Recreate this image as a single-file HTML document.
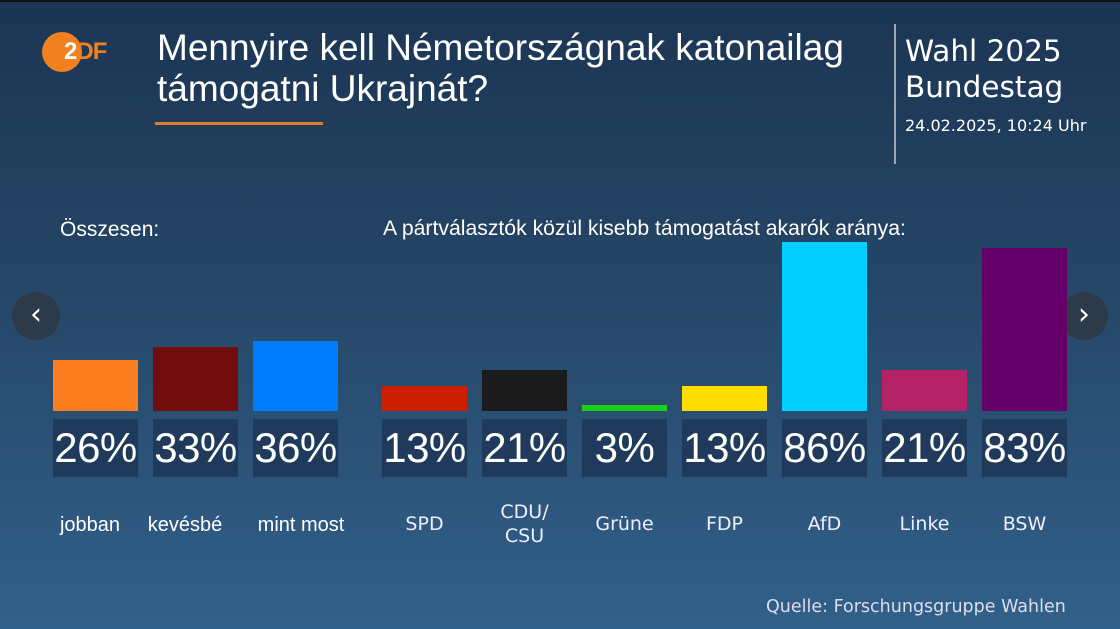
<!DOCTYPE html>
<html><head><meta charset="utf-8"><style>
*{margin:0;padding:0;box-sizing:border-box}
body{width:1120px;height:629px;overflow:hidden;position:relative;font-family:"Liberation Sans","DejaVu Sans",sans-serif;color:#fff;
background:linear-gradient(180deg,#1c3554 0%,#22405f 30%,#2a4f73 65%,#31608a 100%);}
.a{position:absolute}
.bar{position:absolute;width:85px}
.val{position:absolute;top:419px;width:85px;height:58px;background:#1f3a5a;font-size:42px;line-height:58px;text-align:center;letter-spacing:-0.5px;white-space:nowrap}
.lab{position:absolute;width:120px;text-align:center;font-size:20px}
.plab{position:absolute;width:85px;text-align:center;font-size:19px;font-family:"DejaVu Sans",sans-serif;color:#eef}
.nav{position:absolute;width:48px;height:48px;border-radius:50%;background:#2c3a4a;top:292px;font-size:30px;line-height:46px;text-align:center;font-family:"DejaVu Sans",sans-serif}
</style></head><body>
<div class="a" style="top:0;left:0;width:1120px;height:2px;background:#111"></div>
<div class="a" style="left:42px;top:32px;width:40px;height:40px;border-radius:50%;background:#f08020"></div>
<div class="a" style="left:64px;top:38px;font-size:24px;font-weight:bold;color:#fff;letter-spacing:-1px">2<span style="color:#f08020">DF</span></div>
<div class="a" style="left:157px;top:27px;font-size:37px;line-height:41px;white-space:nowrap">Mennyire kell Németországnak katonailag<br>támogatni Ukrajnát?</div>
<div class="a" style="left:155px;top:122px;width:168px;height:3px;background:#e87a25"></div>
<div class="a" style="left:894px;top:24px;width:2px;height:140px;background:#9aa8b8"></div>
<div class="a" style="left:905px;top:33px;font-size:29.5px;line-height:36px;font-family:'DejaVu Sans',sans-serif">Wahl 2025<br>Bundestag</div>
<div class="a" style="left:905px;top:116px;font-size:16px;font-family:'DejaVu Sans',sans-serif">24.02.2025, 10:24 Uhr</div>
<div class="a" style="left:60px;top:218px;font-size:21px">Összesen:</div>
<div class="a" style="left:383px;top:217px;font-size:21.2px;white-space:nowrap">A pártválasztók közül kisebb támogatást akarók aránya:</div>
<div class="nav" style="left:12px">‹</div>
<div class="nav" style="left:1060px">›</div>

<div class="bar" style="left:53px;top:360px;height:51px;background:#fd7e1f"></div>
<div class="bar" style="left:153px;top:347px;height:64px;background:#720d0e"></div>
<div class="bar" style="left:253px;top:341px;height:70px;background:#007dfd"></div>
<div class="bar" style="left:382px;top:386px;height:25px;background:#cc1f00"></div>
<div class="bar" style="left:482px;top:370px;height:41px;background:#1b1b1b"></div>
<div class="bar" style="left:582px;top:405px;height:6px;background:#1fce1b"></div>
<div class="bar" style="left:682px;top:386px;height:25px;background:#ffdd00"></div>
<div class="bar" style="left:782px;top:242px;height:169px;background:#00d0ff"></div>
<div class="bar" style="left:882px;top:370px;height:41px;background:#b52367"></div>
<div class="bar" style="left:982px;top:248px;height:163px;background:#640068"></div>

<div class="val" style="left:53px">26%</div>
<div class="val" style="left:153px">33%</div>
<div class="val" style="left:253px">36%</div>
<div class="val" style="left:382px">13%</div>
<div class="val" style="left:482px">21%</div>
<div class="val" style="left:582px">3%</div>
<div class="val" style="left:682px">13%</div>
<div class="val" style="left:782px">86%</div>
<div class="val" style="left:882px">21%</div>
<div class="val" style="left:982px">83%</div>

<div class="lab" style="left:30px;top:514px">jobban</div>
<div class="lab" style="left:125px;top:514px">kevésbé</div>
<div class="lab" style="left:241px;top:514px">mint most</div>
<div class="plab" style="left:382px;top:513px">SPD</div>
<div class="plab" style="left:482px;top:500px;line-height:24px">CDU/<br>CSU</div>
<div class="plab" style="left:582px;top:513px">Grüne</div>
<div class="plab" style="left:682px;top:513px">FDP</div>
<div class="plab" style="left:782px;top:513px">AfD</div>
<div class="plab" style="left:882px;top:513px">Linke</div>
<div class="plab" style="left:982px;top:513px">BSW</div>
<div class="a" style="left:766px;top:597px;font-size:17.5px;font-family:'DejaVu Sans',sans-serif;color:#dde;white-space:nowrap">Quelle: Forschungsgruppe Wahlen</div>
</body></html>
